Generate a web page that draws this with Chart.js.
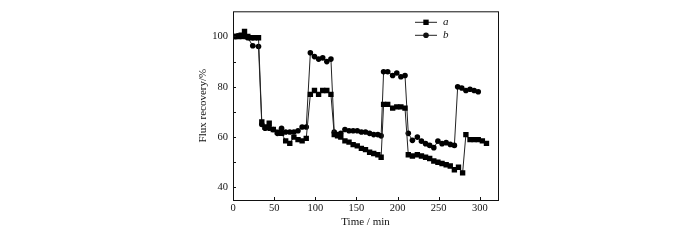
<!DOCTYPE html>
<html>
<head>
<meta charset="utf-8" />
<script src="https://cdn.jsdelivr.net/npm/chart.js@4.4.0/dist/chart.umd.min.js"></script>
<style>
  body { margin: 0; background: #fff; }
</style>
</head>
<body>
<canvas id="flux" width="700" height="240"></canvas>
<script>
/* ---------- Data ---------- */
const timeA = [2, 6, 10, 14, 18, 22, 26, 31,
  35, 39, 44, 49, 54, 59, 64, 69, 74, 79, 84, 89,
  94, 99, 104, 109, 114, 119,
  123, 127, 131, 136, 141, 146, 151, 156, 161, 166, 171, 176, 180,
  183, 188, 194, 199, 204, 209,
  213, 218, 224, 229, 234, 239, 244, 249, 254, 259, 264, 269, 274, 279,
  283, 288, 293, 298, 303, 308];
const recoveryA = [100, 100, 100.5, 102, 100, 99.5, 99.5, 99.5,
  66, 64, 65.5, 63, 62, 61.5, 58.5, 57.5, 60, 59, 58.5, 59.5,
  77, 78.5, 77, 78.5, 78.5, 77,
  61, 60.5, 60, 58.5, 58, 57, 56.5, 55.5, 55, 54, 53.5, 53, 52,
  73, 73, 71.5, 72, 72, 71.5,
  53, 52.5, 53, 52.5, 52, 51.5, 50.5, 50, 49.5, 49, 48.5, 47, 48, 45.8,
  61, 59, 59, 59, 58.5, 57.5];

const timeB = [2, 6, 10, 14, 18, 24, 31,
  35, 39, 44, 49, 54, 59, 64, 69, 74, 79, 84, 89,
  94, 99, 104, 109, 114, 119,
  123, 127, 131, 136, 141, 146, 151, 156, 161, 166, 171, 176, 180,
  183, 188, 194, 199, 204, 209,
  213, 218, 224, 229, 234, 239, 244, 249, 254, 259, 264, 269,
  273, 278, 283, 288, 293, 298];
const recoveryB = [100, 100.3, 100, 100, 99.5, 96.3, 96,
  65, 63.5, 63.5, 63, 61.5, 63.5, 62, 62, 62, 62.5, 64, 64,
  93.5, 92, 91, 91.5, 90, 91,
  62, 61, 61.5, 63, 62.5, 62.5, 62.5, 62, 62, 61.5, 61, 61, 60.5,
  86, 86, 84.5, 85.5, 84, 84.5,
  61.5, 58.7, 60, 58.4, 57.4, 56.7, 55.8, 58.4, 57.4, 57.8, 57.1, 56.7,
  80, 79.5, 78.5, 79, 78.5, 78];

const seriesNames = ['a', 'b'];
const xTicks = [0, 50, 100, 150, 200, 250, 300];
const yTicks = [40, 50, 60, 70, 80, 90, 100];
const yLabelled = [40, 60, 80, 100];

const SERIF = "'Liberation Serif', 'DejaVu Serif', serif";

/* ---------- Plugins ---------- */
// box frame + short inward tick marks
const frameTicks = {
  id: 'frameTicks',
  afterDraw(chart) {
    const { ctx, chartArea: a, scales: { x, y } } = chart;
    ctx.save();
    ctx.strokeStyle = '#111';
    ctx.lineWidth = 1;
    ctx.strokeRect(a.left + 0.5, a.top + 0.5, a.right - a.left, a.bottom - a.top);
    ctx.beginPath();
    x.ticks.forEach(t => {
      const px = Math.round(x.getPixelForValue(t.value)) + 0.5;
      ctx.moveTo(px, a.bottom); ctx.lineTo(px, a.bottom - 3);
    });
    y.ticks.forEach(t => {
      const py = Math.round(y.getPixelForValue(t.value)) + 0.5;
      ctx.moveTo(a.left, py); ctx.lineTo(a.left + 3, py);
    });
    ctx.stroke();
    ctx.restore();
  }
};

// legend inside the top right of the plot: short line with marker, italic label
const lineLegend = {
  id: 'lineLegend',
  afterDraw(chart) {
    const { ctx, chartArea: a } = chart;
    ctx.save();
    chart.data.datasets.forEach((ds, i) => {
      const yy = a.top + 11 + i * 13;
      const x0 = a.right - 83, x1 = a.right - 61;
      ctx.strokeStyle = ds.borderColor;
      ctx.lineWidth = 1;
      ctx.beginPath(); ctx.moveTo(x0, yy); ctx.lineTo(x1, yy); ctx.stroke();
      Chart.helpers.drawPoint(ctx, { pointStyle: ds.pointStyle, radius: ds.pointRadius, borderWidth: 0 },
        (x0 + x1) / 2, yy);
      ctx.fillStyle = '#111';
      ctx.font = "italic 11px " + SERIF;
      ctx.textBaseline = 'middle';
      ctx.fillText(ds.label, x1 + 6, yy);
    });
    ctx.restore();
  }
};

/* ---------- Chart ---------- */
function pts(ts, vs) { return ts.map((t, i) => ({ x: t, y: vs[i] })); }

new Chart(document.getElementById('flux'), {
  type: 'line',
  data: {
    datasets: [
      { label: seriesNames[0], data: pts(timeA, recoveryA), borderColor: '#222', backgroundColor: '#000',
        borderWidth: 1, pointStyle: 'rect', pointRadius: 3.8, pointBorderWidth: 0, tension: 0 },
      { label: seriesNames[1], data: pts(timeB, recoveryB), borderColor: '#222', backgroundColor: '#000',
        borderWidth: 1, pointStyle: 'circle', pointRadius: 2.8, pointBorderWidth: 0, tension: 0 }
    ]
  },
  options: {
    responsive: false,
    animation: false,
    layout: { padding: { left: 193, top: 9, right: 202, bottom: 7 } },
    plugins: { legend: { display: false }, tooltip: { enabled: false } },
    scales: {
      x: {
        type: 'linear', min: 0, max: 322,
        afterBuildTicks: s => { s.ticks = xTicks.map(v => ({ value: v })); },
        afterFit: s => { s.height = 33; },
        grid: { display: false, drawTicks: false },
        border: { display: false },
        ticks: { color: '#111', padding: 2, font: { family: SERIF, size: 10.5 } },
        title: { display: true, text: 'Time / min', color: '#111', padding: { top: 0, bottom: 4 },
          font: { family: SERIF, size: 11 } }
      },
      y: {
        min: 35, max: 110,
        afterBuildTicks: s => { s.ticks = yTicks.map(v => ({ value: v })); },
        afterFit: s => { s.width = 40; },
        grid: { display: false, drawTicks: false },
        border: { display: false },
        ticks: { color: '#111', padding: 5, font: { family: SERIF, size: 10.5 },
          callback: v => yLabelled.includes(v) ? String(v) : '' },
        title: { display: true, text: 'Flux recovery/%', color: '#111', padding: { top: 4, bottom: 0 },
          font: { family: SERIF, size: 11 } }
      }
    }
  },
  plugins: [frameTicks, lineLegend]
});
</script>
</body>
</html>
